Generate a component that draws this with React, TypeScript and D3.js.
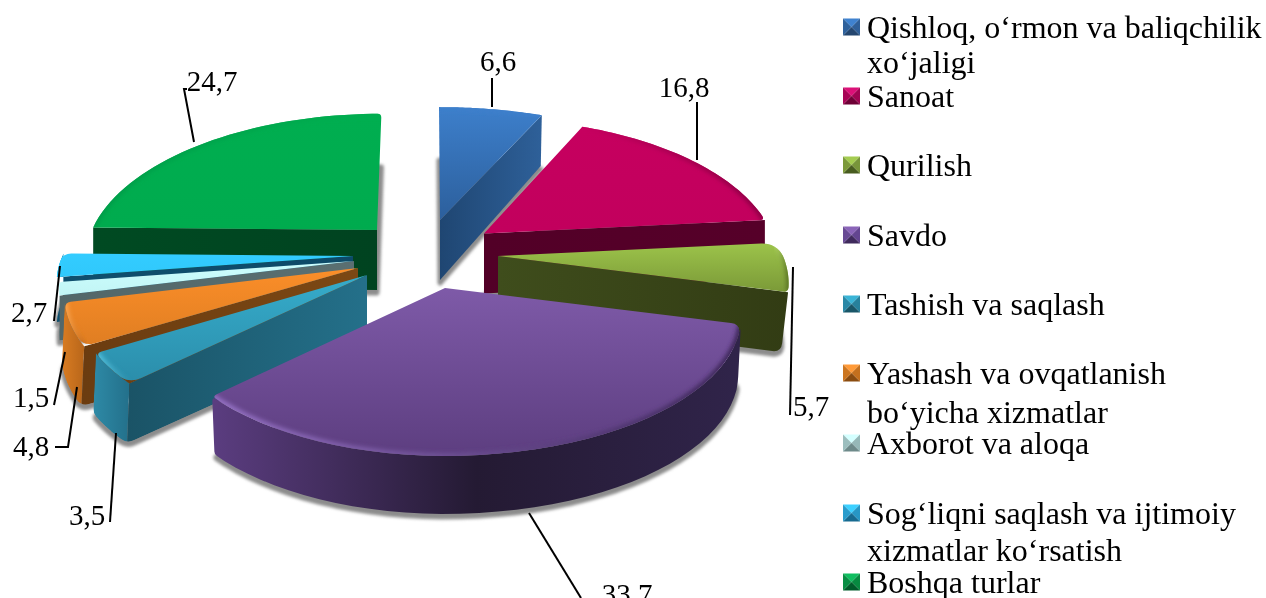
import React from "react";
import * as d3 from "d3";

// ---------- data ----------
const categories = [
  "Qishloq, o‘rmon va baliqchilik xo‘jaligi",
  "Sanoat",
  "Qurilish",
  "Savdo",
  "Tashish va saqlash",
  "Yashash va ovqatlanish bo‘yicha xizmatlar",
  "Axborot va aloqa",
  "Sog‘liqni saqlash va ijtimoiy xizmatlar ko‘rsatish",
  "Boshqa turlar",
];
const values = [6.6, 16.8, 5.7, 33.7, 3.5, 4.8, 1.5, 2.7, 24.7];

// ---------- layout & style ----------
const W = 1266, H = 598;
const FONT = "'Liberation Serif','Times New Roman',serif";
const FS = 29, LEGEND_FS = 32;
const RX = 285, RY = 135, PERSP = 0.196;
const apexX = [440, 484, 498, 445, 367, 358, 354, 353, 377];
const apexY = [220, 233.5, 256, 288, 275, 268, 261, 256, 230];
const rxRight = [1.055, 1.01, 1, 1.02, 1, 1, 1, 1, 1];
const rxLeft = [1, 1, 1, 0.98, 1, 1.01, 1.015, 1.02, 1];
const ryScale = [1, 1.02, 1, 1, 1, 1, 1, 1, 1.03];
const lean = [-1, 0, 0, 0, 0, 0, 0, 0, 4.4];
const floorScale = [0.99, 1, 0.976, 0.99, 1.01, 1.01, 1, 1, 1];
const depths = [60, 60, 60, 58, 60, 60, 45, 45, 60];
// corner radii: top at arc start, top at arc end, bottom at arc start, bottom at arc end
const cornerTop0 = [0, 0, 15, 10, 13, 10, 0, 0, 0];
const cornerTop1 = [0, 5, 5, 5, 6, 6, 3, 8, 4];
const cornerBot0 = [0, 0, 0, 6, 8, 8, 0, 0, 0];
const cornerBot1 = [0, 0, 9, 3, 5, 8, 0, 0, 0];
const topColors = [
  ["#3d7fcb", "#2c5f9c"], ["#c6005f", "#c2005d"], ["#9cc34a", "#7b9a38"],
  ["#7e5aa8", "#5d3e80"], ["#36accb", "#2b8eab"], ["#fb8e29", "#e07e22"],
  ["#ccfefe", "#c2f5f5"], ["#33ccff", "#30c8fb"], ["#00ae50", "#00ab4e"],
];
const radialColors = [
  ["#1f4672", "#2e6099"], ["#520027", "#560029"], ["#3f4d1c", "#323c14"],
  ["#3d2a5a", "#3d2a5a"], ["#1a5366", "#24708a"], ["#6b3c10", "#7c4814"],
  ["#536769", "#5a6f71"], ["#0f4f6e", "#0d4a68"], ["#004a22", "#004320"],
];
const outerColors = [
  ["#2e6099", "#2e6099"], ["#560029", "#560029"], ["#3f4d1c", "#323c14"],
  ["#5b3d80", "#241a33", "#30244a"], ["#2e8aa6", "#23708b"], ["#d97c22", "#b8661a"],
  ["#8aa5a5", "#7f9a9a"], ["#2aa5d2", "#2aa5d2"], ["#006a32", "#006a32"],
];
const rimColors = [
  ["#3d7fcb", "#3d7fcb"], ["#c6005f", "#8a0043"], ["#b6d96b", "#55701f"],
  ["#9672c6", "#3b2557"], ["#56c4e0", "#2b8eab"], ["#ffa850", "#c56a18"],
  ["#ccfefe", "#ccfefe"], ["#33ccff", "#33ccff"], ["#009c48", "#00ae50"],
];
const legendLines = [
  ["Qishloq, o‘rmon va baliqchilik", "xo‘jaligi"], ["Sanoat"], ["Qurilish"], ["Savdo"],
  ["Tashish va saqlash"], ["Yashash va ovqatlanish", "bo‘yicha xizmatlar"],
  ["Axborot va aloqa"], ["Sog‘liqni saqlash va ijtimoiy", "xizmatlar ko‘rsatish"], ["Boshqa turlar"],
];
const legendY = [27, 96, 165, 235, 304, 373, 443, 513, 582];
const legendSecondLine = [73, 0, 0, 0, 0, 423, 0, 561, 0];
const legendColors = [
  ["#3f82cf", "#2f5f98", "#24466f", "#2f619b"], ["#dc1078", "#a00452", "#6e0036", "#a80456"],
  ["#a4cc50", "#78953a", "#485c1f", "#7c9a3a"], ["#8a64b8", "#634590", "#3f2a5c", "#684a94"],
  ["#3ab4d6", "#27819c", "#195668", "#2a88a6"], ["#ff9a38", "#c4701e", "#8a4c10", "#cc7620"],
  ["#d4ffff", "#96b8b8", "#6e8a8a", "#9cbebe"], ["#3cd0ff", "#2796c4", "#176a90", "#2a9ccc"],
  ["#10be60", "#078a40", "#005c2a", "#088e44"],
];
const labelPos = [
  [498, 71], [684, 97], [811, 416], [627, 604], [87, 525], [31, 456], [31, 407], [29, 322], [212, 91],
];
const leaders = [
  [[492, 78], [492, 107]],
  [[697, 102], [697, 160]],
  [[793, 267], [790, 415]],
  [[529, 513], [581, 598]],
  [[116, 433], [110, 522]],
  [[77, 387], [68, 447], [55, 447]],
  [[65, 352], [54, 405]],
  [[60, 266], [54, 321]],
  [[194, 142], [184, 89], [187, 89]],
];

// ---------- geometry ----------
type P = number[];
const pie = d3.pie<number>().sort(null).value((d) => d);
const arcs = pie(values);
const line = d3.line<P>().x((d) => d[0]).y((d) => d[1]);
const w = (t: number, r: number) => 1 + PERSP * r * Math.cos(t);
const proj = (i: number, t: number, r = 1, down = false): P => {
  const ww = w(t, r);
  const s = Math.sin(t);
  let dx = (RX * (s > 0 ? rxRight[i] : rxLeft[i]) * r * s) / ww + lean[i] * r * Math.max(0, Math.cos(t));
  if (down) dx *= floorScale[i];
  const y = apexY[i] - (RY * ryScale[i] * r * Math.cos(t)) / ww;
  return [apexX[i] + dx, down ? y + (ww > 1 ? depths[i] / ww : depths[i]) : y];
};
const samples = (a: number, b: number) => d3.range(0, 41).map((k) => a + ((b - a) * k) / 40);

// round chosen corners of a closed polygon given as sampled points
function roundPoly(pts: P[], corners: Record<number, number>) {
  const n = pts.length;
  const dist = (a: P, b: P) => Math.hypot(a[0] - b[0], a[1] - b[1]);
  const walk = (idx: number, dir: number, r: number) => {
    let d = 0, i = idx;
    for (let guard = 0; guard < n; guard++) {
      const j = (i + dir + n) % n;
      const seg = dist(pts[i], pts[j]);
      if (d + seg >= r && seg > 0) {
        const f = (r - d) / seg;
        return { pt: [pts[i][0] + (pts[j][0] - pts[i][0]) * f, pts[i][1] + (pts[j][1] - pts[i][1]) * f], idx: i };
      }
      d += seg;
      i = j;
    }
    return { pt: pts[idx], idx };
  };
  const skip = new Set<number>();
  const repl: Record<number, string> = {};
  Object.entries(corners).forEach(([k, r]) => {
    const c = +k;
    if (!r) return;
    const a = walk(c, -1, r), b = walk(c, 1, r);
    for (let q = c; q !== a.idx; q = (q - 1 + n) % n) skip.add(q);
    for (let q = c; q !== b.idx; q = (q + 1) % n) skip.add(q);
    skip.delete(c);
    repl[c] = `L${a.pt[0]},${a.pt[1]}Q${pts[c][0]},${pts[c][1]} ${b.pt[0]},${b.pt[1]}`;
  });
  let d = "";
  pts.forEach((p, idx) => {
    if (repl[idx]) d += d ? repl[idx] : "M" + repl[idx].slice(1);
    else if (!skip.has(idx)) d += (d ? "L" : "M") + p[0] + "," + p[1];
  });
  return d + "Z";
}

function topPath(i: number, a0: number, a1: number) {
  const pts = [proj(i, a0, 0), ...samples(a0, a1).map((t) => proj(i, t))];
  return roundPoly(pts, { 1: cornerTop0[i], [pts.length - 1]: cornerTop1[i] });
}
function floorPts(i: number, a0: number, a1: number) {
  return [proj(i, a0, 0, true), ...samples(a0, a1).map((t) => proj(i, t, 1, true))];
}
function floorPath(i: number, a0: number, a1: number) {
  const pts = floorPts(i, a0, a1);
  return roundPoly(pts, { 1: cornerBot0[i], [pts.length - 1]: cornerBot1[i] });
}

const fmt = d3.format(".1f");
const order = d3.range(values.length).sort((a, b) => apexY[a] - apexY[b]);

const grad = (id: string, stops: string[], vertical = false) => (
  <linearGradient id={id} key={id} x1="0" y1="0" x2={vertical ? 0 : 1} y2={vertical ? 1 : 0}>
    {stops.map((c, k) => (
      <stop key={k} offset={stops.length === 1 ? 0 : k / (stops.length - 1)} stopColor={c} />
    ))}
  </linearGradient>
);

function Walls({ i }: { i: number }) {
  const { startAngle: a0, endAngle: a1 } = arcs[i];
  const mid = (a0 + a1) / 2;
  const hasOuter = mid > Math.PI * 0.55 && mid < Math.PI * 1.5;
  const hasR0 = a0 > Math.PI;
  const hasR1 = a1 < Math.PI;
  const from = Math.max(a0, Math.PI * 0.47);
  const to = Math.min(a1, Math.PI * 1.53);
  const ts = samples(from, to);
  const top = ts.map((t) => proj(i, t));
  const bot = ts.map((t) => proj(i, t, 1, true));
  const outerPts = [...top, ...bot.slice().reverse()];
  const radialPts = (t: number) => [proj(i, t, 0), proj(i, t, 1), proj(i, t, 1, true), proj(i, t, 0, true)];

  // slices showing both an outer and a radial wall share one rounded outline
  if (hasOuter && hasR0) {
    const outline = [
      proj(i, a0, 0),
      proj(i, a0, 0, true),
      ...bot,
      ...top.slice().reverse(),
    ];
    const lastBot = 2 + bot.length - 1;
    return (
      <g>
        <clipPath id={`wall${i}`}>
          <path d={roundPoly(outline, { 2: cornerBot0[i], [lastBot]: cornerBot1[i] })} />
        </clipPath>
        <g clipPath={`url(#wall${i})`}>
          <path d={line([proj(i, a0, 0), ...top])! + "Z"} fill={`url(#out${i})`} />
          <path d={line(outerPts)! + "Z"} fill={`url(#out${i})`} />
          <path d={line(radialPts(a0))! + "Z"} fill={`url(#rad${i})`} />
        </g>
      </g>
    );
  }
  return (
    <g>
      {hasOuter && (
        <path
          d={roundPoly(outerPts, {
            0: cornerTop0[i],
            [top.length - 1]: cornerTop1[i],
            [top.length]: cornerBot1[i],
            [outerPts.length - 1]: cornerBot0[i],
          })}
          fill={`url(#out${i})`}
        />
      )}
      {hasR0 && <path d={line(radialPts(a0))! + "Z"} fill={`url(#rad${i})`} />}
      {hasR1 && <path d={roundPoly(radialPts(a1), { 2: cornerBot1[i] })} fill={`url(#rad${i})`} />}
    </g>
  );
}

export default function App() {
  return (
    <svg
      width={W}
      height={H}
      viewBox={`0 0 ${W} ${H}`}
      style={{ position: "absolute", left: 0, top: 0, background: "#fff", overflow: "hidden" }}
      fontFamily={FONT}
      fontSize={FS}
    >
      <defs>
        <filter id="soft" x="-10%" y="-10%" width="120%" height="120%">
          <feGaussianBlur stdDeviation="1.6" />
        </filter>
        <filter id="rimBlur" x="-10%" y="-10%" width="120%" height="120%">
          <feGaussianBlur stdDeviation="2" />
        </filter>
        {arcs.map((_, i) => [
          grad(`top${i}`, topColors[i], true),
          grad(`rad${i}`, radialColors[i]),
          grad(`out${i}`, outerColors[i]),
          grad(`rim${i}`, rimColors[i]),
        ])}
        {arcs.map((a, i) => (
          <clipPath id={`clip${i}`} key={i}>
            <path d={topPath(i, a.startAngle, a.endAngle)} />
          </clipPath>
        ))}
      </defs>

      {/* floor shadows */}
      <g filter="url(#soft)">
        {arcs.map((a, i) => (
          <path
            key={i}
            d={floorPath(i, a.startAngle, a.endAngle)}
            transform="translate(0,3)"
            fill="#8c8c8c"
            stroke="#8c8c8c"
            strokeWidth={5}
            strokeLinejoin="round"
          />
        ))}
      </g>

      {/* slices, back to front */}
      {order.map((i) => {
        const { startAngle: a0, endAngle: a1 } = arcs[i];
        const rim = samples(a0, a1).map((t) => proj(i, t));
        return (
          <g key={i}>
            <Walls i={i} />
            <path d={topPath(i, a0, a1)} fill={`url(#top${i})`} />
            <g clipPath={`url(#clip${i})`}>
              <path
                d={line(rim)!}
                fill="none"
                stroke={`url(#rim${i})`}
                strokeWidth={6}
                filter="url(#rimBlur)"
              />
            </g>
          </g>
        );
      })}

      {/* leader lines */}
      {leaders.map((pts, i) => (
        <path key={i} d={line(pts)!} fill="none" stroke="#000" strokeWidth={2} />
      ))}

      {/* value labels */}
      {values.map((v, i) => (
        <text key={i} x={labelPos[i][0]} y={labelPos[i][1]} textAnchor="middle" fill="#000">
          {fmt(v).replace(".", ",")}
        </text>
      ))}

      {/* legend */}
      {categories.map((name, i) => {
        const s = 8.5;
        const cx = 851.5, cy = legendY[i];
        const c = legendColors[i];
        const tl = [cx - s, cy - s], tr = [cx + s, cy - s], br = [cx + s, cy + s], bl = [cx - s, cy + s];
        const m = [cx, cy];
        const tris = [[tl, tr, m], [tr, br, m], [br, bl, m], [bl, tl, m]];
        return (
          <g key={i} aria-label={name} fontSize={LEGEND_FS}>
            {tris.map((t, k) => (
              <path key={k} d={line(t)! + "Z"} fill={c[k]} />
            ))}
            <text x={867} y={cy + 11} fill="#000">{legendLines[i][0]}</text>
            {legendLines[i][1] && (
              <text x={867} y={legendSecondLine[i]} fill="#000">{legendLines[i][1]}</text>
            )}
          </g>
        );
      })}
    </svg>
  );
}
